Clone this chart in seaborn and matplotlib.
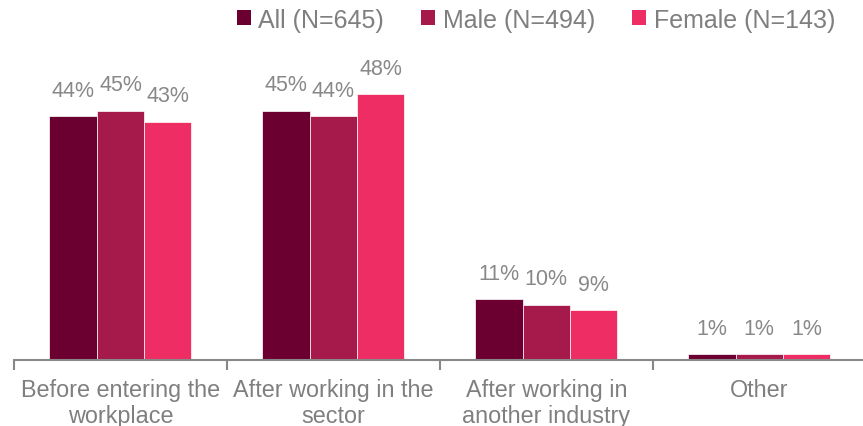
import matplotlib
matplotlib.use("Agg")
import matplotlib.pyplot as plt
from matplotlib.patches import Patch
import pandas as pd
import seaborn as sns

# Survey responses: when respondents joined / decided on the sector
categories = [
    "Before entering the\nworkplace",
    "After working in the\nsector",
    "After working in\nanother industry",
    "Other",
]
groups = ["All (N=645)", "Male (N=494)", "Female (N=143)"]
all_values = [44, 45, 11, 1]
male_values = [45, 44, 10, 1]
female_values = [43, 48, 9, 1]
palette = ["#6B0030", "#A6194B", "#EE2D65"]

rows = []
for grp, vals in zip(groups, [all_values, male_values, female_values]):
    for cat, v in zip(categories, vals):
        rows.append({"category": cat, "group": grp, "value": v})
df = pd.DataFrame(rows)

sns.set_theme(style="white")
plt.rcParams["font.family"] = ["Liberation Sans", "DejaVu Sans"]
grey = "#7F7F7F"

fig = plt.figure(figsize=(8.63, 4.27), dpi=100)
ax = fig.add_axes([0.0162, 0.1546, 0.987, 0.714])

sns.barplot(
    data=df, x="category", y="value", hue="group",
    order=categories, hue_order=groups, palette=palette,
    width=0.667, edgecolor="white", linewidth=0.5,
    saturation=1, legend=False, ax=ax,
)

for container, vals in zip(ax.containers, [all_values, male_values, female_values]):
    ax.bar_label(container, labels=[f"{v}%" for v in vals], padding=11,
                 color="#888888", fontsize=15.5, clip_on=False)

ax.set_xlim(-0.5, 3.5)
ax.set_ylim(0, 55)
ax.set_xlabel("")
ax.set_ylabel("")
ax.set_yticks([])
for side in ["top", "right", "left"]:
    ax.spines[side].set_visible(False)
ax.spines["bottom"].set_color("#888888")
ax.spines["bottom"].set_linewidth(1.5)

ax.set_xticks(range(len(categories)))
ax.set_xticklabels(categories, color=grey, fontsize=16.8, linespacing=1.15)
ax.tick_params(axis="x", which="major", length=0, pad=13)
ax.set_xticks([-0.5, 0.5, 1.5, 2.5, 3.5], minor=True)
ax.tick_params(axis="x", which="minor", length=7, width=1.5, color="#888888",
               direction="out", bottom=True)

handles = [Patch(facecolor=c, edgecolor="none") for c in palette]
fig.legend(handles, groups, loc="upper right", bbox_to_anchor=(0.985, 1.015),
           ncol=3, frameon=False, fontsize=18, labelcolor=grey,
           handlelength=0.55, handleheight=0.55, handletextpad=0.3,
           columnspacing=1.5, borderaxespad=0.2)

fig.savefig("out.png", dpi=100)
